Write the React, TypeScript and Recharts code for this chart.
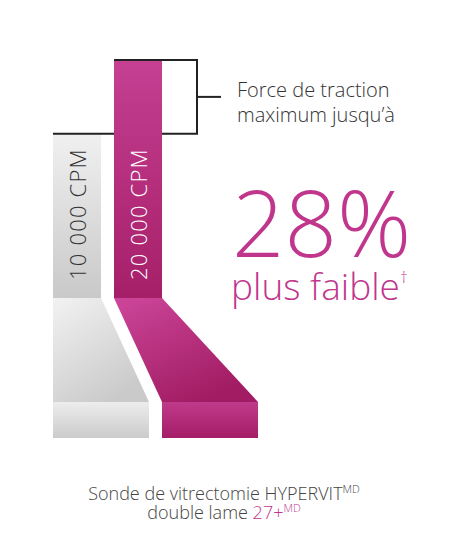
import { BarChart, Bar, XAxis, YAxis } from 'recharts';

// pull force, relative (20 000 CPM = 100)
const categories = ['10 000 CPM', '20 000 CPM'];
const pullForce = [69, 100];
const barColors = ['gray', 'magenta'];

const data = categories.map((name, i) => ({ name, value: pullForce[i], color: barColors[i] }));

const MAGENTA = '#c0368c';
const FONT = '"Open Sans", "Noto Sans", sans-serif';
const BRACKET_X = 197;
const SLANT_H = 104;
const BLOCK_H = 36;

const palette: Record<string, { bar: [string, string]; slant: [string, string]; block: [string, string]; text: string }> = {
  gray: { bar: ['#f0f0f0', '#c9c9c9'], slant: ['#f2f2f2', '#cacaca'], block: ['#ededed', '#cbcbcb'], text: '#333333' },
  magenta: { bar: ['#c53f93', '#a51f68'], slant: ['#cd469b', '#a11c62'], block: ['#c03a8b', '#a51d66'], text: '#ffffff' },
};

function ProbeShape(props: any) {
  const { x, y, width, height, index, payload } = props;
  const c = palette[payload.color];
  const bottom = y + height;
  const offset = index * width;
  const id = `p${index}`;
  const isMax = payload.value === Math.max(...pullForce);
  const minTop = bottom - height * (Math.min(...pullForce) / payload.value);

  return (
    <g>
      <defs>
        <linearGradient id={`${id}-bar`} x1="0" y1="0" x2="0" y2="1">
          <stop offset="0%" stopColor={c.bar[0]} />
          <stop offset="100%" stopColor={c.bar[1]} />
        </linearGradient>
        <linearGradient id={`${id}-slant`} x1="0" y1="0" x2="0.6" y2="1">
          <stop offset="0%" stopColor={c.slant[0]} />
          <stop offset="100%" stopColor={c.slant[1]} />
        </linearGradient>
        <linearGradient id={`${id}-block`} x1="0" y1="0" x2="0" y2="1">
          <stop offset="0%" stopColor={c.block[0]} />
          <stop offset="100%" stopColor={c.block[1]} />
        </linearGradient>
      </defs>
      <rect x={x} y={y} width={width} height={height} fill={`url(#${id}-bar)`} />
      <polygon
        points={`${x},${bottom} ${x + width},${bottom} ${x + offset + 2 * width},${bottom + SLANT_H} ${x + offset},${bottom + SLANT_H}`}
        fill={`url(#${id}-slant)`}
      />
      <rect x={x + offset} y={bottom + SLANT_H} width={2 * width} height={BLOCK_H} fill={`url(#${id}-block)`} />
      <text
        x={x + width / 2}
        y={bottom - 18}
        transform={`rotate(-90 ${x + width / 2} ${bottom - 18})`}
        textAnchor="start"
        dominantBaseline="central"
        fontFamily={FONT}
        fontWeight={300}
        fontSize={22}
        letterSpacing={1.2}
        fill={c.text}
      >
        {payload.name}
      </text>
      {isMax && (
        <g stroke="#222" strokeWidth={2} fill="none">
          <line x1={BRACKET_X} y1={y} x2={BRACKET_X} y2={minTop} />
          <line x1={BRACKET_X} y1={(y + minTop) / 2} x2={BRACKET_X + 24} y2={(y + minTop) / 2} />
        </g>
      )}
      <line x1={x} y1={y} x2={BRACKET_X + 1} y2={y} stroke="#222" strokeWidth={2} />
    </g>
  );
}

export default function App() {
  return (
    <div style={{ position: 'absolute', left: 0, top: 0, width: 450, height: 543, background: '#fff' }}>
      <BarChart width={450} height={543} data={data} margin={{ top: 60, right: 282, bottom: 245, left: 46 }}>
        <XAxis dataKey="name" hide />
        <YAxis domain={[0, 100]} hide />
        <Bar dataKey="value" barSize={48} shape={ProbeShape} isAnimationActive={false} />
      </BarChart>
      <svg width={450} height={543} style={{ position: 'absolute', left: 0, top: 0, pointerEvents: 'none' }}>
        <g fontFamily={FONT} fontWeight={300}>
          <text x={237} y={97} fontSize={20} fill="#333">Force de traction</text>
          <text x={237} y={122} fontSize={20} fill="#333">maximum jusqu’à</text>
          <text x={232} y={257} fontSize={92} fill={MAGENTA}>28%</text>
          <text x={231} y={300} fontSize={37} fill={MAGENTA}>
            plus faible<tspan fontSize={16} dy={-17}>†</tspan>
          </text>
          <text x={224} y={500} fontSize={18} fill="#444" textAnchor="middle">
            Sonde de vitrectomie HYPERVIT<tspan fontSize={11} dy={-7}>MD</tspan>
          </text>
          <text x={224} y={519} fontSize={18} fill="#444" textAnchor="middle">
            double lame <tspan fill={MAGENTA}>27+</tspan>
            <tspan fill={MAGENTA} fontSize={11} dy={-7}>MD</tspan>
          </text>
        </g>
      </svg>
    </div>
  );
}
